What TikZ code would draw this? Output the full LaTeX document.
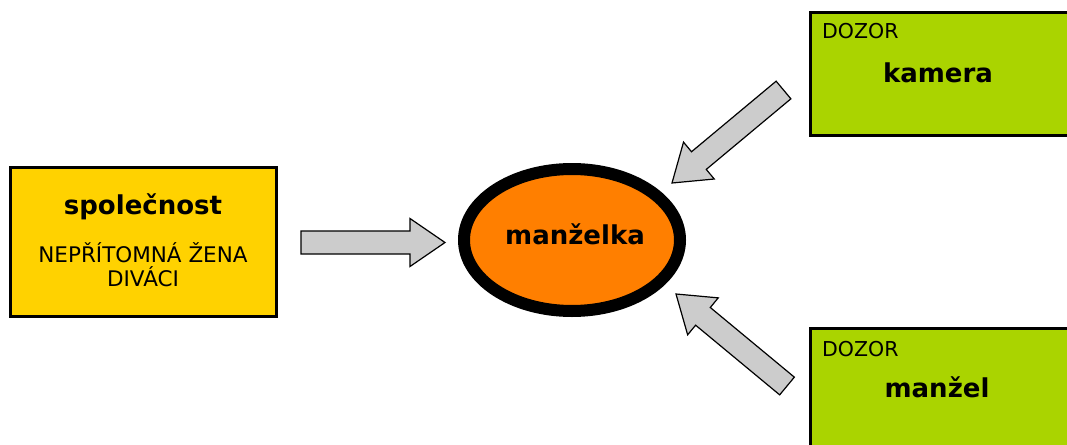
\documentclass[tikz,border=0pt]{standalone}
\usepackage{fontspec}
\setmainfont{DejaVu Sans}
\usetikzlibrary{calc,shapes.geometric}
\definecolor{boxgold}{RGB}{255,210,0}
\definecolor{boxlime}{RGB}{170,212,0}
\definecolor{wifeorange}{RGB}{255,127,0}
\definecolor{arrowgray}{RGB}{204,204,204}
\tikzset{
  infobox/.style={draw=black, line width=3pt, rectangle, inner sep=0pt},
  wife/.style={draw=black, fill=wifeorange, ellipse, line width=12pt, inner sep=0pt,
    minimum width=216pt, minimum height=142pt},
  title/.style={font=\fontsize{26}{30}\selectfont\bfseries, anchor=base, inner sep=0pt},
  caption/.style={font=\fontsize{21.5}{24}\selectfont, anchor=base, inner sep=0pt},
  tag/.style={font=\fontsize{20.5}{24}\selectfont, anchor=base west, inner sep=0pt},
  blockarrowstyle/.style={draw=black, line width=1.2pt, fill=arrowgray, line join=miter},
}
% block arrow from tail #1 to tip #2
\newcommand\blockarrow[2]{%
  \coordinate (ba-base) at ($(#2)!35pt!(#1)$);
  \draw[blockarrowstyle]
    ($(#1)!11.5pt!90:(#2)$) -- ($(ba-base)!11.5pt!90:(#2)$) --
    ($(ba-base)!24pt!90:(#2)$) -- (#2) --
    ($(ba-base)!24pt!-90:(#2)$) -- ($(ba-base)!11.5pt!-90:(#2)$) --
    ($(#1)!11.5pt!-90:(#2)$) -- cycle;
}
\begin{document}
\begin{tikzpicture}[x=1pt,y=-1pt]
  \useasboundingbox (0,0) rectangle (1067,444);
  \clip (0,0) rectangle (1067,444);

  % society box
  \node[infobox, fill=boxgold, minimum width=266pt, minimum height=149pt] (spol) at (143,241.5) {};
  \node[title] (spolT) at (143,214) {společnost};
  \node[caption] (spolA) at (143,262) {NEPŘÍTOMNÁ ŽENA};
  \node[caption] (spolB) at (143,286) {DIVÁCI};

  % wife
  \node[wife] (manz) at (572,240) {};
  \node[title] (manzT) at (575,244) {manželka};

  % surveillance boxes
  \node[infobox, fill=boxlime, minimum width=280pt, minimum height=122pt] (kam) at (950,74) {};
  \node[tag] (kamD) at (822,39) {DOZOR};
  \node[title] (kamT) at (938,82) {kamera};

  \node[infobox, fill=boxlime, minimum width=280pt, minimum height=140pt] (muz) at (950,398) {};
  \node[tag] (muzD) at (822,356) {DOZOR};
  \node[title] (muzT) at (937,397) {manžel};

  % arrows pointing at the wife
  \coordinate (a1s) at (301,242.5);
  \coordinate (a1e) at (445,242.5);
  \coordinate (a2s) at (783.5,90);
  \coordinate (a2e) at (672,183);
  \coordinate (a3s) at (787,386);
  \coordinate (a3e) at (676,294);
  \blockarrow{a1s}{a1e}
  \blockarrow{a2s}{a2e}
  \blockarrow{a3s}{a3e}
\end{tikzpicture}
\end{document}
